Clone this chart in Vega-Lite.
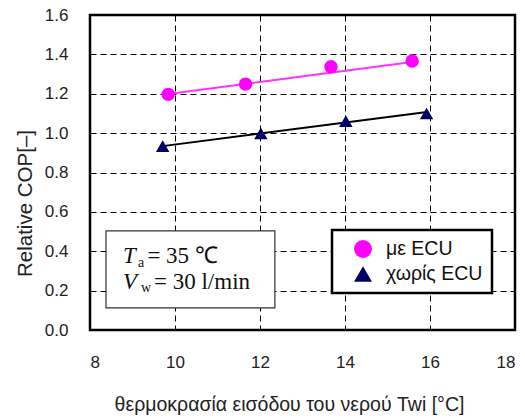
{
  "$schema": "https://vega.github.io/schema/vega-lite/v6.json",
  "width": 425,
  "height": 315,
  "autosize": "none",
  "padding": {"left": 90, "top": 15, "right": 10, "bottom": 90},
  "background": "white",
  "config": {
    "view": {"stroke": "black", "strokeWidth": 2.5},
    "axis": {
      "labelFont": "Liberation Sans",
      "labelFontSize": 17,
      "labelColor": "#222",
      "titleFont": "Liberation Sans",
      "titleColor": "#222",
      "titleFontWeight": "normal",
      "grid": true,
      "gridColor": "black",
      "gridDash": [6, 4],
      "gridWidth": 1,
      "domain": false,
      "ticks": false
    },
    "legend": {
      "orient": "none",
      "legendX": 242,
      "legendY": 215,
      "padding": 9,
      "strokeColor": "black",
      "strokeWidth": 2.5,
      "fillColor": "white",
      "symbolSize": 320,
      "labelFont": "Liberation Sans",
      "labelFontSize": 19.5,
      "labelColor": "#111",
      "rowPadding": 5,
      "symbolOffset": 12,
      "labelOffset": 13
    }
  },
  "datasets": {
    "pts": [
      {"x": 9.84, "y": 1.197, "series": "με ECU"},
      {"x": 11.66, "y": 1.249, "series": "με ECU"},
      {"x": 13.67, "y": 1.337, "series": "με ECU"},
      {"x": 15.58, "y": 1.366, "series": "με ECU"},
      {"x": 9.71, "y": 0.934, "series": "χωρίς ECU"},
      {"x": 12.02, "y": 0.999, "series": "χωρίς ECU"},
      {"x": 14.02, "y": 1.061, "series": "χωρίς ECU"},
      {"x": 15.92, "y": 1.1, "series": "χωρίς ECU"}
    ],
    "trend": [
      {"x": 9.84, "y": 1.199, "series": "με ECU"},
      {"x": 15.58, "y": 1.361, "series": "με ECU"},
      {"x": 9.71, "y": 0.934, "series": "χωρίς ECU"},
      {"x": 15.93, "y": 1.107, "series": "χωρίς ECU"}
    ],
    "box": [{"x": 8.376, "x2": 12.35, "y": 0.112, "y2": 0.503}],
    "main": [
      {"x": 9.35, "y": 0.34, "t": "= 35 ℃"},
      {"x": 9.506, "y": 0.208, "t": "= 30 l/min"}
    ],
    "ital": [
      {"x": 8.776, "y": 0.34, "t": "T"},
      {"x": 8.776, "y": 0.208, "t": "V"}
    ],
    "sub": [
      {"x": 9.13, "y": 0.32, "t": "a"},
      {"x": 9.2, "y": 0.193, "t": "w"}
    ]
  },
  "encoding": {
    "x": {
      "field": "x",
      "type": "quantitative",
      "scale": {"domain": [8, 18], "nice": false, "zero": false},
      "axis": {
        "values": [8, 10, 12, 14, 16, 18],
        "labelPadding": 24,
        "title": "θερμοκρασία εισόδου του νερού  Twi [°C]",
        "titleFontSize": 19.5,
        "titlePadding": 25,
        "titleX": 199,
        "titleAlign": "center"
      }
    },
    "y": {
      "field": "y",
      "type": "quantitative",
      "scale": {"domain": [0, 1.6], "nice": false, "zero": false},
      "axis": {
        "values": [0, 0.2, 0.4, 0.6, 0.8, 1.0, 1.2, 1.4, 1.6],
        "format": ".1f",
        "labelPadding": 22,
        "title": "Relative COP[–]",
        "titleFontSize": 20.5,
        "titlePadding": 9,
        "titleY": 188,
        "titleAlign": "center"
      }
    }
  },
  "layer": [
    {
      "data": {"name": "box"},
      "mark": {"type": "rect", "fill": "white", "stroke": "#333", "strokeWidth": 1.2},
      "encoding": {"x2": {"field": "x2"}, "y2": {"field": "y2"}}
    },
    {
      "data": {"name": "ital"},
      "mark": {"type": "text", "align": "left", "baseline": "alphabetic", "font": "Liberation Serif", "fontStyle": "italic", "fontSize": 23, "color": "#111"},
      "encoding": {"text": {"field": "t"}}
    },
    {
      "data": {"name": "sub"},
      "mark": {"type": "text", "align": "left", "baseline": "alphabetic", "font": "Liberation Serif", "fontSize": 14, "color": "#111"},
      "encoding": {"text": {"field": "t"}}
    },
    {
      "data": {"name": "main"},
      "mark": {"type": "text", "align": "left", "baseline": "alphabetic", "font": "Liberation Serif", "fontSize": 23, "color": "#111"},
      "encoding": {"text": {"field": "t"}}
    },
    {
      "data": {"name": "trend"},
      "transform": [{"filter": "datum.series === 'με ECU'"}],
      "mark": {"type": "line", "color": "#ff33ff", "strokeWidth": 2},
      "encoding": {}
    },
    {
      "data": {"name": "trend"},
      "transform": [{"filter": "datum.series === 'χωρίς ECU'"}],
      "mark": {"type": "line", "color": "black", "strokeWidth": 2},
      "encoding": {}
    },
    {
      "data": {"name": "pts"},
      "mark": {"type": "point", "filled": true, "opacity": 1, "size": 180},
      "encoding": {
        "color": {
          "field": "series",
          "type": "nominal",
          "scale": {"domain": ["με ECU", "χωρίς ECU"], "range": ["#ff00ff", "#000066"]},
          "legend": {"title": null}
        },
        "shape": {
          "field": "series",
          "type": "nominal",
          "scale": {"domain": ["με ECU", "χωρίς ECU"], "range": ["circle", "triangle-up"]},
          "legend": {"title": null}
        }
      }
    }
  ]
}
